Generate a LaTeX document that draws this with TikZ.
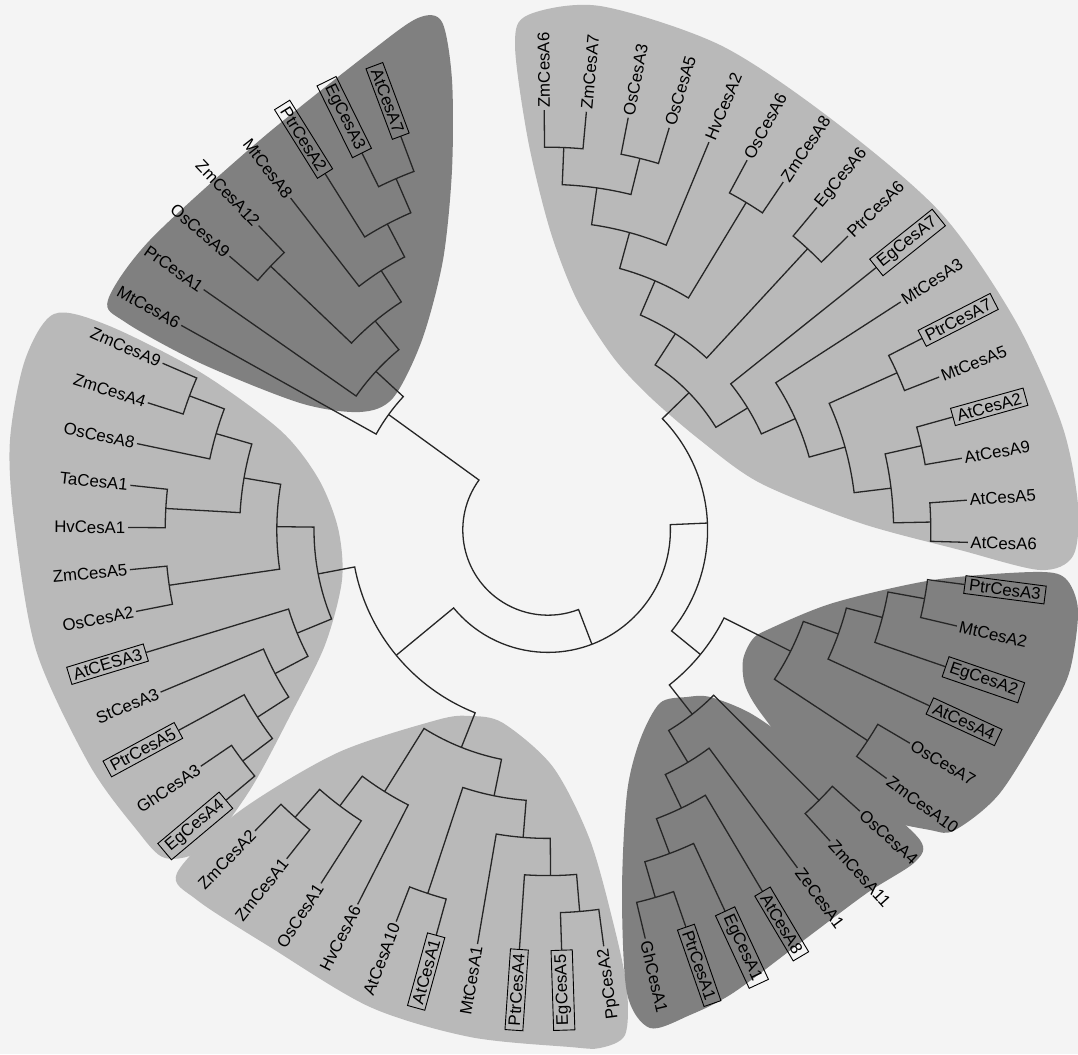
\documentclass[tikz,border=0pt]{standalone}
\usepackage{fontspec}
\setmainfont{Liberation Sans}
\usepackage{xcolor}
\usepackage{tikz}

\definecolor{bgpaper}{RGB}{244,244,244}
\definecolor{cladedark}{RGB}{128,128,128}
\definecolor{cladelight}{RGB}{185,185,185}

\tikzset{
  lab/.style={font=\fontsize{16.8}{19}\selectfont, inner sep=2.5pt},
  boxed/.style={draw, line width=0.9pt, inner xsep=4.5pt, inner ysep=3pt},
  branch/.style={line width=1.3pt, black!85},
}

% leaf label: slot, name, text (slot -> angle)
\newcommand{\cesleaf}[4][]{%
  \pgfmathsetmacro{\leafang}{110.5+5.763*#2}%
  \ifdim\leafang pt<280pt
    \pgfmathsetmacro{\leafrot}{\leafang-180}%
    \node[lab,#1,anchor=east,rotate=\leafrot] (#3) at (\leafang:420pt) {#4};
  \else
    \node[lab,#1,anchor=west,rotate=\leafang] (#3) at (\leafang:420pt) {#4};
  \fi}

% join two children: slot1 height1 slot2 height2 height
\newcommand{\cesjoin}[5]{%
  \pgfmathsetmacro{\ja}{110.5+5.763*#1}%
  \pgfmathsetmacro{\jb}{110.5+5.763*#3}%
  \pgfmathsetmacro{\jra}{420-37.2*#2}%
  \pgfmathsetmacro{\jrb}{420-37.2*#4}%
  \pgfmathsetmacro{\jr}{420-37.2*#5}%
  \draw[branch] (\ja:\jra pt) -- (\ja:\jr pt)
    arc[start angle=\ja, end angle=\jb, radius=\jr pt] -- (\jb:\jrb pt);}

\begin{document}
\begin{tikzpicture}[x=1pt, y=1pt]
  \path[use as bounding box, fill=bgpaper] (-548,-524) rectangle (530,530);

  % clade shading, in picture pixels
  \begin{scope}[shift={(-548,530)}, yscale=-1]
    \fill[cladelight] plot[smooth cycle] coordinates {(515,45) (528,15) (600,6) (720,45) (830,118) (940,212) (1015,320) (1062,425) (1078,505) (1073,556) (1040,570) (960,550) (860,523) (760,483) (700,440) (650,397) (613,357) (577,300) (550,230) (528,140)};
    \fill[cladelight] plot[smooth cycle] coordinates {(54,314) (25,360) (10,440) (14,520) (36,650) (89,764) (136,829) (165,858) (205,848) (250,790) (292,712) (325,645) (342,580) (338,528) (318,478) (280,430) (200,372) (107,325)};
    \fill[cladelight] plot[smooth cycle] coordinates {(177,873) (237,813) (337,753) (437,720) (470,716) (503,723) (553,767) (590,840) (615,930) (627,990) (625,1035) (600,1048) (570,1047) (470,1037) (370,1007) (270,947) (197,900)};
    \fill[cladedark] plot[smooth cycle] coordinates {(108,300) (150,240) (260,140) (370,52) (418,18) (442,22) (452,80) (452,170) (443,260) (422,340) (393,398) (360,412) (300,403) (200,363) (125,322)};
    \fill[cladedark] plot[smooth cycle] coordinates {(687,697) (660,703) (640,740) (627,793) (622,893) (627,993) (650,1028) (690,1015) (733,993) (800,943) (867,893) (915,862) (920,840) (867,793) (800,747) (750,713) (710,697)};
    \fill[cladedark] plot[smooth cycle] coordinates {(743,660) (752,640) (767,630) (833,603) (933,580) (1033,572) (1065,578) (1078,610) (1070,670) (1050,712) (1000,793) (955,830) (930,830) (867,813) (800,760) (760,712) (745,685)};
  \end{scope}

  % top left clade
  \cesjoin{0}{0}{1}{0}{1}
  \cesjoin{0.5}{1}{2}{0}{2}
  \cesjoin{1.25}{2}{3}{0}{3}
  \cesjoin{4}{0}{5}{0}{1}
  \cesjoin{2.125}{3}{4.5}{1}{4}
  \cesjoin{3.3125}{4}{6}{0}{5}
  \cesjoin{4.65625}{5}{7}{0}{6}
  % left clade
  \cesjoin{8}{0}{9}{0}{1}
  \cesjoin{8.5}{1}{10}{0}{2}
  \cesjoin{11}{0}{12}{0}{1}
  \cesjoin{9.25}{2}{11.5}{1}{3}
  \cesjoin{13}{0}{14}{0}{1}
  \cesjoin{10.375}{3}{13.5}{1}{4}
  \cesjoin{18}{0}{19}{0}{1}
  \cesjoin{17}{0}{18.5}{1}{2}
  \cesjoin{16}{0}{17.75}{2}{3}
  \cesjoin{15}{0}{16.875}{3}{4}
  \cesjoin{11.9375}{4}{15.9375}{4}{5}
  % bottom clade
  \cesjoin{20}{0}{21}{0}{1}
  \cesjoin{20.5}{1}{22}{0}{2}
  \cesjoin{21.25}{2}{23}{0}{3}
  \cesjoin{24}{0}{25}{0}{1}
  \cesjoin{28}{0}{29}{0}{1}
  \cesjoin{27}{0}{28.5}{1}{2}
  \cesjoin{26}{0}{27.75}{2}{3}
  \cesjoin{24.5}{1}{26.875}{3}{4}
  \cesjoin{22.125}{3}{25.6875}{4}{5}
  \cesjoin{13.9375}{5}{23.90625}{5}{6}
  % bottom right clade
  \cesjoin{30}{0}{31}{0}{1}
  \cesjoin{30.5}{1}{32}{0}{2}
  \cesjoin{31.25}{2}{33}{0}{3}
  \cesjoin{32.125}{3}{34}{0}{4}
  \cesjoin{35}{0}{36}{0}{1}
  \cesjoin{33.0625}{4}{35.5}{1}{5}
  % right clade
  \cesjoin{37}{0}{38}{0}{1}
  \cesjoin{41}{0}{42}{0}{1}
  \cesjoin{40}{0}{41.5}{1}{2}
  \cesjoin{39}{0}{40.75}{2}{3}
  \cesjoin{37.5}{1}{39.875}{3}{4}
  \cesjoin{34.28125}{5}{38.6875}{4}{6}
  % top right clade
  \cesjoin{43}{0}{44}{0}{1}
  \cesjoin{45}{0}{46}{0}{1}
  \cesjoin{43.5}{1}{45.5}{1}{2}
  \cesjoin{47}{0}{48}{0}{1}
  \cesjoin{44.5}{2}{47.5}{1}{3}
  \cesjoin{46}{3}{49}{0}{4}
  \cesjoin{47.5}{4}{50}{0}{5}
  \cesjoin{51}{0}{52}{0}{1}
  \cesjoin{53}{0}{54}{0}{1}
  \cesjoin{56}{0}{57}{0}{1}
  \cesjoin{58}{0}{59}{0}{1}
  \cesjoin{56.5}{1}{58.5}{1}{2}
  \cesjoin{55}{0}{57.5}{2}{3}
  \cesjoin{53.5}{1}{56.25}{3}{4}
  \cesjoin{51.5}{1}{54.875}{4}{5}
  \cesjoin{48.75}{5}{53.1875}{5}{6}
  % backbone
  \cesjoin{36.484375}{6}{50.96875}{6}{7}
  \cesjoin{18.921875}{6}{43.7265625}{7}{8}
  \cesjoin{5.828125}{6}{31.32421875}{8}{9}

  % leaves
  \cesleaf[boxed]{0}{at7}{AtCesA7}
  \cesleaf[boxed]{1}{eg3}{EgCesA3}
  \cesleaf[boxed]{2}{ptr2}{PtrCesA2}
  \cesleaf{3}{mt8}{MtCesA8}
  \cesleaf{4}{zm12}{ZmCesA12}
  \cesleaf{5}{os9}{OsCesA9}
  \cesleaf{6}{pr1}{PrCesA1}
  \cesleaf{7}{mt6}{MtCesA6}
  \cesleaf{8}{zm9}{ZmCesA9}
  \cesleaf{9}{zm4}{ZmCesA4}
  \cesleaf{10}{os8}{OsCesA8}
  \cesleaf{11}{ta1}{TaCesA1}
  \cesleaf{12}{hv1}{HvCesA1}
  \cesleaf{13}{zm5}{ZmCesA5}
  \cesleaf{14}{os2}{OsCesA2}
  \cesleaf[boxed]{15}{at3}{AtCESA3}
  \cesleaf{16}{st3}{StCesA3}
  \cesleaf[boxed]{17}{ptr5}{PtrCesA5}
  \cesleaf{18}{gh3}{GhCesA3}
  \cesleaf[boxed]{19}{eg4}{EgCesA4}
  \cesleaf{20}{zm2}{ZmCesA2}
  \cesleaf{21}{zm1}{ZmCesA1}
  \cesleaf{22}{os1}{OsCesA1}
  \cesleaf{23}{hv6}{HvCesA6}
  \cesleaf{24}{at10}{AtCesA10}
  \cesleaf[boxed]{25}{at1}{AtCesA1}
  \cesleaf{26}{mt1}{MtCesA1}
  \cesleaf[boxed]{27}{ptr4}{PtrCesA4}
  \cesleaf[boxed]{28}{eg5}{EgCesA5}
  \cesleaf{29}{pp2}{PpCesA2}
  \cesleaf{30}{gh1}{GhCesA1}
  \cesleaf[boxed]{31}{ptr1}{PtrCesA1}
  \cesleaf[boxed]{32}{eg1}{EgCesA1}
  \cesleaf[boxed]{33}{at8}{AtCesA8}
  \cesleaf{34}{ze1}{ZeCesA1}
  \cesleaf{35}{zm11}{ZmCesA11}
  \cesleaf{36}{os4}{OsCesA4}
  \cesleaf{37}{zm10}{ZmCesA10}
  \cesleaf{38}{os7}{OsCesA7}
  \cesleaf[boxed]{39}{at4}{AtCesA4}
  \cesleaf[boxed]{40}{eg2}{EgCesA2}
  \cesleaf{41}{mt2}{MtCesA2}
  \cesleaf[boxed]{42}{ptr3}{PtrCesA3}
  \cesleaf{43}{at6}{AtCesA6}
  \cesleaf{44}{at5}{AtCesA5}
  \cesleaf{45}{at9}{AtCesA9}
  \cesleaf[boxed]{46}{at2}{AtCesA2}
  \cesleaf{47}{mt5}{MtCesA5}
  \cesleaf[boxed]{48}{ptr7}{PtrCesA7}
  \cesleaf{49}{mt3}{MtCesA3}
  \cesleaf[boxed]{50}{eg7}{EgCesA7}
  \cesleaf{51}{ptr6}{PtrCesA6}
  \cesleaf{52}{eg6}{EgCesA6}
  \cesleaf{53}{zm8}{ZmCesA8}
  \cesleaf{54}{os6}{OsCesA6}
  \cesleaf{55}{hv2}{HvCesA2}
  \cesleaf{56}{os5}{OsCesA5}
  \cesleaf{57}{os3}{OsCesA3}
  \cesleaf{58}{zm7}{ZmCesA7}
  \cesleaf{59}{zm6}{ZmCesA6}
\end{tikzpicture}
\end{document}
